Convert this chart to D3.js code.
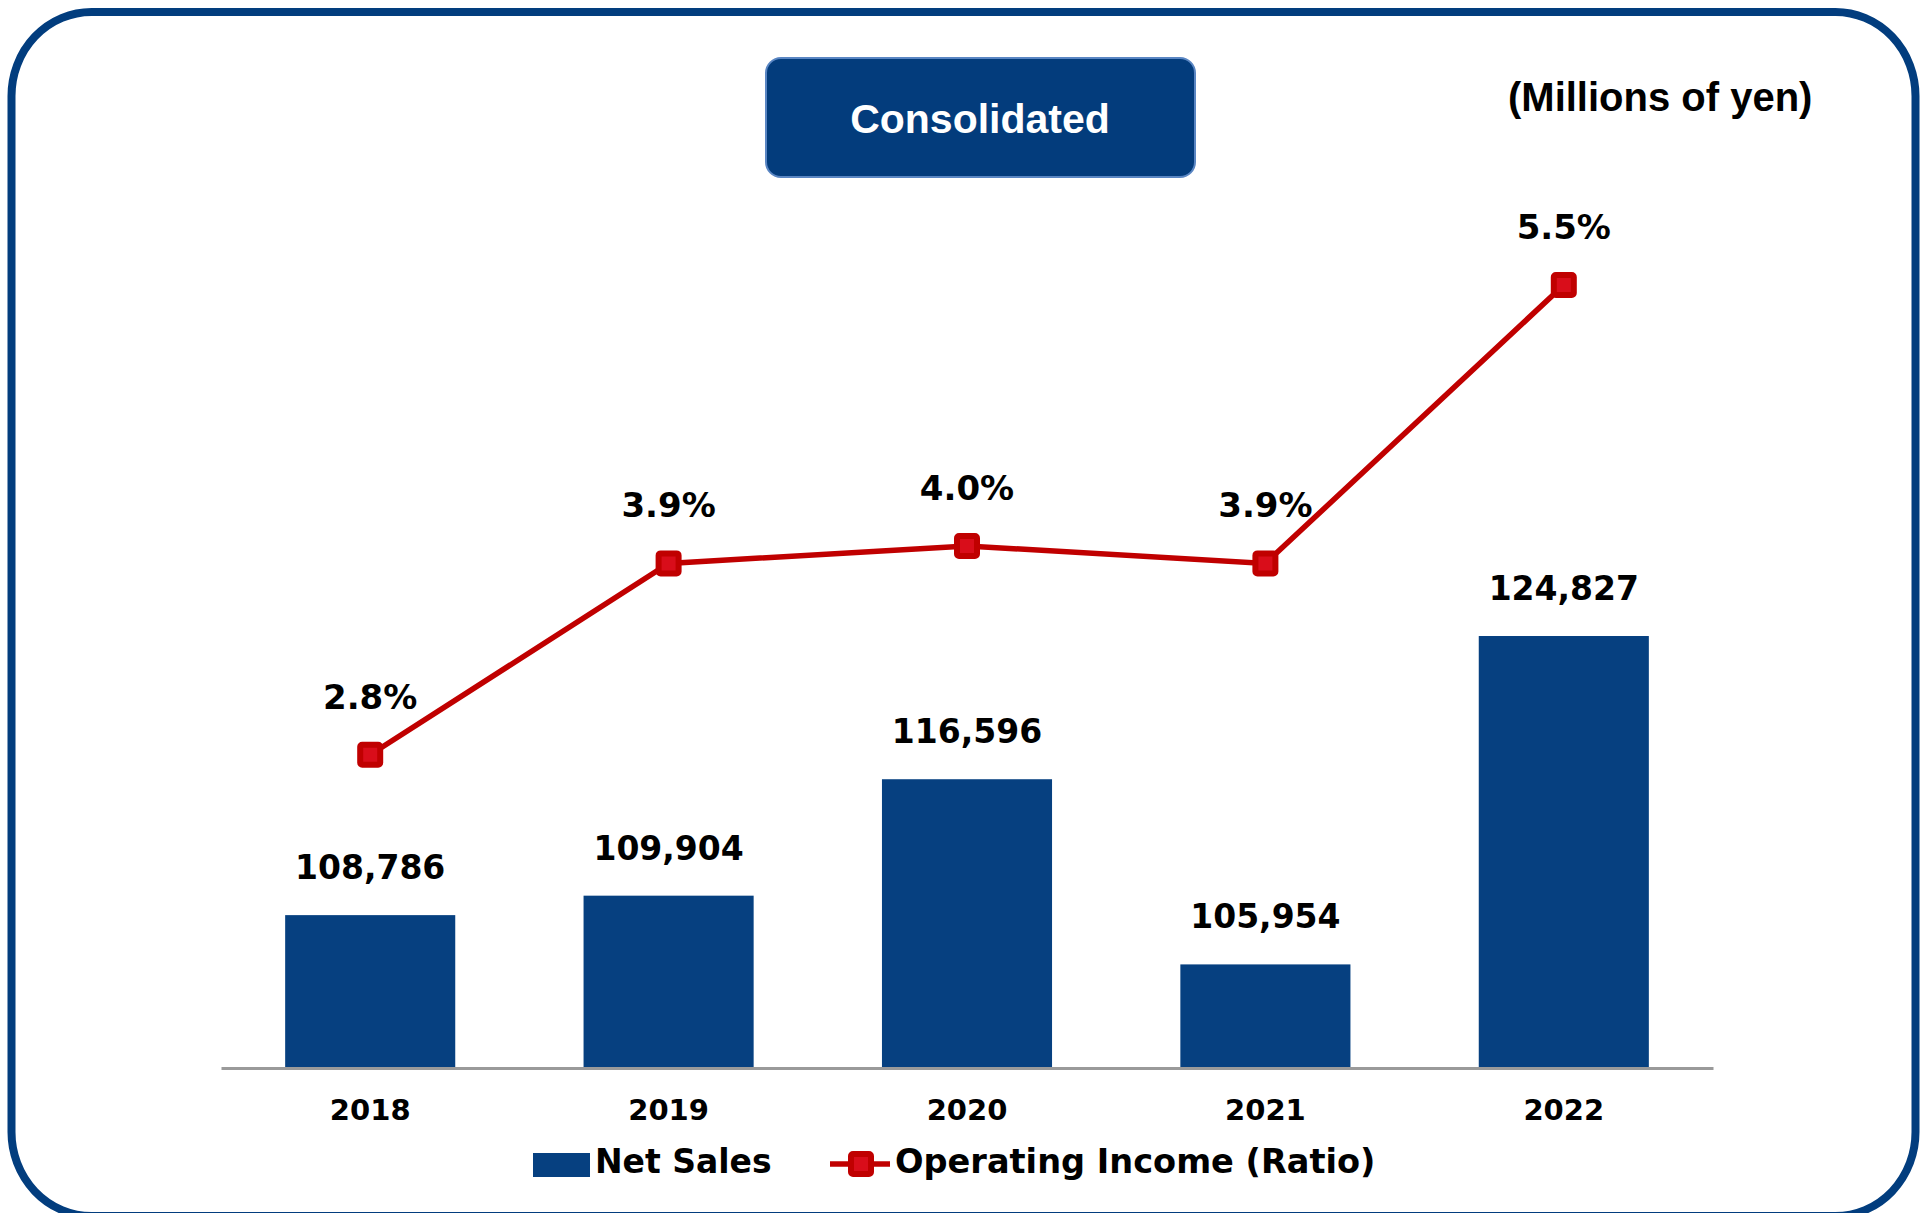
<!DOCTYPE html>
<html lang="en">
<head>
<meta charset="utf-8">
<title>Consolidated Net Sales</title>
<script src="https://d3js.org/d3.v7.min.js"></script>
<style>
    body { margin: 0; background: #fff; }
    svg { display: block; }
</style>
</head>
<body>
<div id="viz"></div>
<script>

    // chart data
    var years = ["2018", "2019", "2020", "2021", "2022"];
    var netSales = [108786, 109904, 116596, 105954, 124827];
    var opRatio = [2.8, 3.9, 4.0, 3.9, 5.5];

    var width = 1923;
    var height = 1213;

    var svg = d3.select("#viz").append("svg")
        .attr("width", width)
        .attr("height", height);

    // frame (bottom edge runs just past the picture)
    svg.append("rect")
        .attr("x", 11.5).attr("y", 12)
        .attr("width", 1904).attr("height", 1204)
        .attr("rx", 80).attr("ry", 84)
        .style("fill", "none")
        .style("stroke", "#023d7e")
        .style("stroke-width", 8);

    // title box
    svg.append("rect")
        .attr("x", 766).attr("y", 58)
        .attr("width", 429).attr("height", 119)
        .attr("rx", 15)
        .style("fill", "#033c7c")
        .style("stroke", "#5a86c3")
        .style("stroke-width", 2);

    svg.append("text")
        .attr("x", 980).attr("y", 133)
        .attr("text-anchor", "middle")
        .style("font", "bold 41px 'Liberation Sans', Arial, sans-serif")
        .style("fill", "#fff")
        .text("Consolidated");

    svg.append("text")
        .attr("x", 1508).attr("y", 111)
        .style("font", "bold 40px 'Liberation Sans', Arial, sans-serif")
        .style("fill", "#000")
        .text("(Millions of yen)");

    var x = d3.scaleBand()
        .domain(years)
        .range([221, 1713])
        .paddingInner(0.43)
        .paddingOuter(0.215);

    var y = d3.scaleLinear().domain([100000, 150000]).range([1068, 198]);
    var y2 = d3.scaleLinear().domain([1, 6]).range([1068, 198]);

    var rows = years.map(function (d, i) {
        return {year: d, sales: netSales[i], ratio: opRatio[i]};
    });

    // bars
    svg.append("g")
        .selectAll("rect")
        .data(rows)
        .enter()
        .append("rect")
        .attr("x", d => x(d.year))
        .attr("y", d => y(d.sales))
        .attr("width", x.bandwidth())
        .attr("height", d => y(100000) - y(d.sales))
        .style("fill", "#064080");

    // baseline axis
    var xAxis = svg.append("g")
        .attr("transform", "translate(0," + y(100000) + ")")
        .call(d3.axisBottom(x).tickSize(0).tickPadding(52));
    xAxis.select(".domain")
        .style("stroke", "#9a9a9a")
        .style("stroke-width", 3);
    xAxis.selectAll("text")
        .style("font", "bold 29px 'DejaVu Sans', Verdana, sans-serif")
        .style("fill", "#000")
        .attr("dy", 0);

    // bar labels
    svg.append("g")
        .selectAll("text")
        .data(rows)
        .enter()
        .append("text")
        .attr("x", d => x(d.year) + x.bandwidth() / 2)
        .attr("y", d => y(d.sales) - 36)
        .attr("text-anchor", "middle")
        .style("font", "bold 33px 'DejaVu Sans', Verdana, sans-serif")
        .style("fill", "#000")
        .text(d => d3.format(",")(d.sales));

    // ratio line
    var line = d3.line()
        .x(d => x(d.year) + x.bandwidth() / 2)
        .y(d => y2(d.ratio));

    svg.append("path")
        .datum(rows)
        .attr("d", line)
        .style("fill", "none")
        .style("stroke", "#c00000")
        .style("stroke-width", 5.5);

    svg.append("g")
        .selectAll("rect")
        .data(rows)
        .enter()
        .append("rect")
        .attr("x", d => x(d.year) + x.bandwidth() / 2 - 10)
        .attr("y", d => y2(d.ratio) - 10)
        .attr("width", 20).attr("height", 20)
        .attr("rx", 2)
        .style("fill", "#d90d1a")
        .style("stroke", "#c00000")
        .style("stroke-width", 6);

    svg.append("g")
        .selectAll("text")
        .data(rows)
        .enter()
        .append("text")
        .attr("x", d => x(d.year) + x.bandwidth() / 2)
        .attr("y", d => y2(d.ratio) - 46)
        .attr("text-anchor", "middle")
        .style("font", "bold 34px 'DejaVu Sans', Verdana, sans-serif")
        .style("fill", "#000")
        .text(d => d.ratio.toFixed(1) + "%");

    // legend
    var legend = svg.append("g");
    legend.append("rect")
        .attr("x", 533).attr("y", 1153)
        .attr("width", 57).attr("height", 24)
        .style("fill", "#064080");
    legend.append("text")
        .attr("x", 595).attr("y", 1173)
        .style("font", "bold 33px 'DejaVu Sans', Verdana, sans-serif")
        .style("fill", "#000")
        .text("Net Sales");
    legend.append("line")
        .attr("x1", 830).attr("x2", 890)
        .attr("y1", 1164).attr("y2", 1164)
        .style("stroke", "#c00000")
        .style("stroke-width", 5.5);
    legend.append("rect")
        .attr("x", 851).attr("y", 1154)
        .attr("width", 20).attr("height", 20)
        .attr("rx", 2)
        .style("fill", "#d90d1a")
        .style("stroke", "#c00000")
        .style("stroke-width", 6);
    legend.append("text")
        .attr("x", 895).attr("y", 1173)
        .style("font", "bold 33.6px 'DejaVu Sans', Verdana, sans-serif")
        .style("fill", "#000")
        .text("Operating Income (Ratio)");

</script>
</body>
</html>
